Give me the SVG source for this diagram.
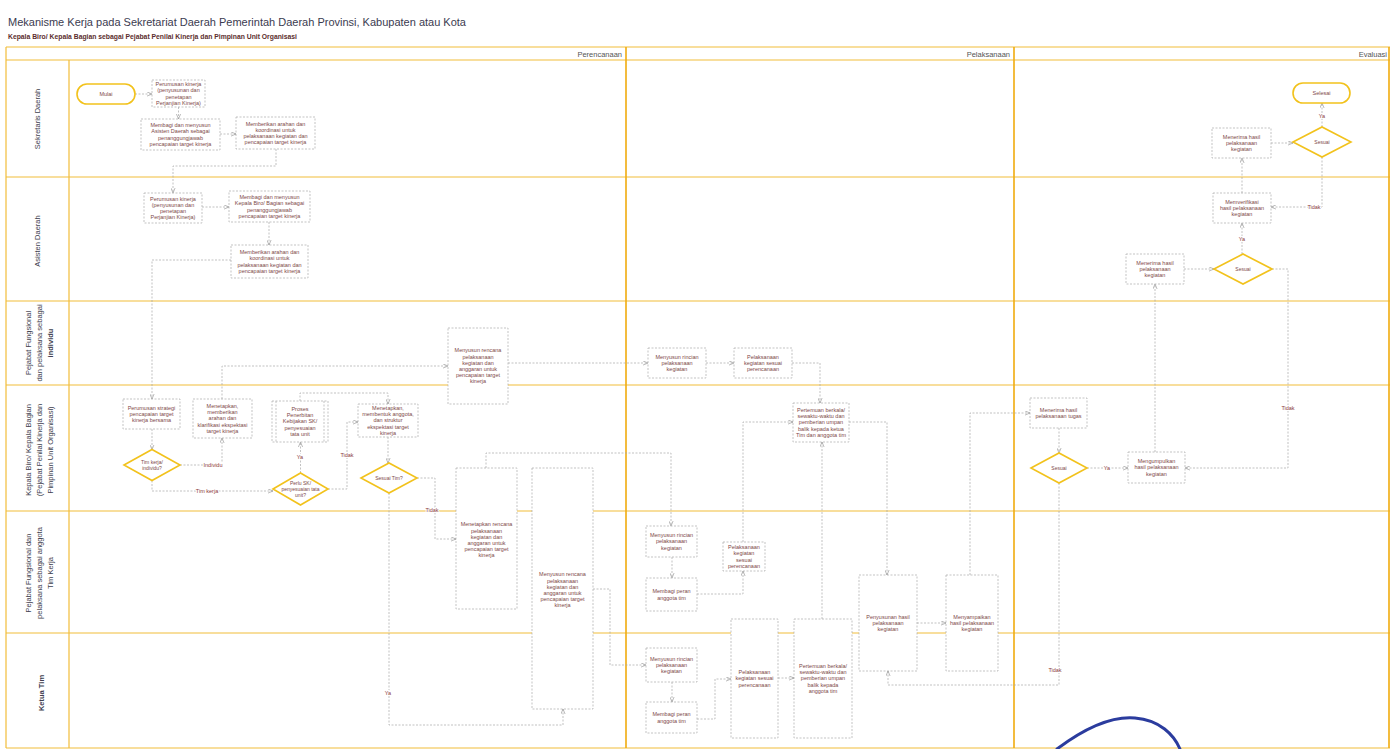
<svg xmlns="http://www.w3.org/2000/svg" width="1396" height="749" viewBox="0 0 1396 749">
<defs>
<style>
.ln{stroke:#f2bd3a;stroke-width:1.2;fill:none}
.lnv{stroke:#f0ac10;stroke-width:1.6;fill:none}
.box{fill:#fff;stroke:#aaa;stroke-width:0.7;stroke-dasharray:2 1.5}
.dia{fill:#fff;stroke:#f2c21c;stroke-width:1.6}
.term{fill:#fff;stroke:#f2c21c;stroke-width:1.6}
.t{font-family:"Liberation Sans",Arial,sans-serif;font-size:5.5px;fill:#7d4848;text-anchor:middle}
.td{font-family:"Liberation Sans",Arial,sans-serif;font-size:5px;fill:#7d4848;text-anchor:middle}
.c{fill:none;stroke:#a8a8a8;stroke-width:0.7;stroke-dasharray:2 1.5;marker-end:url(#a)}
.lb{font-family:"Liberation Sans",Arial,sans-serif;font-size:5.5px;fill:#8b3a3a;text-anchor:middle;stroke:#fff;stroke-width:2;paint-order:stroke}
.lane{font-family:"Liberation Sans",Arial,sans-serif;font-size:7.5px;fill:#40404e;text-anchor:middle}
.hd{font-family:"Liberation Sans",Arial,sans-serif;font-size:7.5px;fill:#555;text-anchor:end}
</style>
<marker id="a" viewBox="0 0 6 6" refX="6" refY="3" markerWidth="5" markerHeight="5" orient="auto" markerUnits="userSpaceOnUse"><path d="M0,0.5 L6,3 L0,5.5" fill="none" stroke="#999" stroke-width="0.8"/></marker>
</defs>
<rect width="1396" height="749" fill="#fff"/>
<text x="8" y="26" font-family="Liberation Sans, Arial, sans-serif" font-size="11px" fill="#3b3b50">Mekanisme Kerja pada Sekretariat Daerah Pemerintah Daerah Provinsi, Kabupaten atau Kota</text>
<text x="8" y="39" font-family="Liberation Sans, Arial, sans-serif" font-size="6.8px" font-weight="bold" fill="#5b2e2e">Kepala Biro/ Kepala Bagian sebagai Pejabat Penilai Kinerja dan Pimpinan Unit Organisasi</text>

<g id="frame">
<path class="ln" d="M6 47 H1390 M6 60 H1390 M6 177 H1390 M6 301 H1390 M6 385 H1390 M6 511 H1390 M6 633 H1390 M6 748 H1390"/>
<path class="ln" d="M6 47 V748 M69 60 V748"/>
<path class="lnv" d="M626 47 V748 M1014 47 V748 M1389 47 V748"/>
<text class="hd" x="622" y="57">Perencanaan</text>
<text class="hd" x="1010" y="57">Pelaksanaan</text>
<text class="hd" x="1387" y="57">Evaluasi</text>
</g>

<g id="lanes">
<text class="lane" transform="translate(40,119) rotate(-90)">Sekretaris Daerah</text>
<text class="lane" transform="translate(40,241) rotate(-90)">Asisten Daerah</text>
<text class="lane" transform="translate(31,343) rotate(-90)">Pejabat Fungsional</text>
<text class="lane" transform="translate(42,343) rotate(-90)">dan pelaksana sebagai</text>
<text class="lane" transform="translate(53,343) rotate(-90)" font-weight="bold">individu</text>
<text class="lane" transform="translate(31,450) rotate(-90)">Kepala Biro/ Kepala Bagian</text>
<text class="lane" transform="translate(42,450) rotate(-90)">(Pejabat Penilai Kinerja dan</text>
<text class="lane" transform="translate(53,450) rotate(-90)">Pimpinan Unit Organisasi)</text>
<text class="lane" transform="translate(31,573) rotate(-90)">Pejabat Fungsional dan</text>
<text class="lane" transform="translate(42,573) rotate(-90)">pelaksana sebagai anggota</text>
<text class="lane" transform="translate(53,573) rotate(-90)">Tim Kerja</text>
<text class="lane" transform="translate(44,693) rotate(-90)" font-size="5.5px" font-weight="bold">Ketua Tim</text>
</g>

<g id="connectors">
<path class="c" d="M135 94 H152"/>
<path class="c" d="M178.5 107 V119"/>
<path class="c" d="M220 134 H236"/>
<path class="c" d="M276 149 V166 H173 V193"/>
<path class="c" d="M202 207 H229"/>
<path class="c" d="M269 222 V245"/>
<path class="c" d="M231 260 H152 V399"/>
<path class="c" d="M152 429 V449.5"/>
<path class="c" d="M180 465 H222 V438"/>
<path class="c" d="M222 399 V366 H448"/>
<path class="c" d="M152 480.5 V491 H273"/>
<path class="c" d="M300.5 473 V442"/>
<path class="c" d="M300 401 V393 H388 V404"/>
<path class="c" d="M328 489 H347 V422 H358"/>
<path class="c" d="M388 437 V463"/>
<path class="c" d="M417 478 H435 V539 H456"/>
<path class="c" d="M389 493 V725 H563 V709"/>
<path class="c" d="M508 363 H648"/>
<path class="c" d="M706 363 H734"/>
<path class="c" d="M792 363 H820 V403"/>
<path class="c" d="M743 542 V422 H793"/>
<path class="c" d="M849 422 H887 V575"/>
<path class="c" d="M822 619 V442"/>
<path class="c" d="M486 468 V453 H671 V526"/>
<path class="c" d="M593 589 H610 V665 H646"/>
<path class="c" d="M672 557 V578"/>
<path class="c" d="M697 594 H743 V571"/>
<path class="c" d="M672 682 V702"/>
<path class="c" d="M697 719 H715 V679 H731"/>
<path class="c" d="M778 678 H794"/>
<path class="c" d="M917 623 H946"/>
<path class="c" d="M970 575 V413 H1030"/>
<path class="c" d="M1059 428 V453"/>
<path class="c" d="M1087 468 H1128"/>
<path class="c" d="M1059 483 V685 H888 V671"/>
<path class="c" d="M1155 452 V284"/>
<path class="c" d="M1184 269 H1214"/>
<path class="c" d="M1272 269 H1288 V468 H1185"/>
<path class="c" d="M1242 254 V223"/>
<path class="c" d="M1242 193 V158"/>
<path class="c" d="M1271 143 H1293"/>
<path class="c" d="M1322 127 V103"/>
<path class="c" d="M1322 157 V207 H1271"/>
<text class="lb" x="213" y="467">Individu</text>
<text class="lb" x="207" y="493">Tim kerja</text>
<text class="lb" x="300" y="459">Ya</text>
<text class="lb" x="347" y="457">Tidak</text>
<text class="lb" x="432" y="512">Tidak</text>
<text class="lb" x="388" y="695">Ya</text>
<text class="lb" x="1107" y="470">Ya</text>
<text class="lb" x="1055" y="672">Tidak</text>
<text class="lb" x="1288" y="410">Tidak</text>
<text class="lb" x="1242" y="241">Ya</text>
<text class="lb" x="1322" y="118">Ya</text>
<text class="lb" x="1314" y="209">Tidak</text>
</g>

<g id="mulai"><rect class="term" x="77" y="84" width="58" height="20" rx="10"/><text class="t" x="106" y="96">Mulai</text></g>
<g id="s1"><rect class="box" x="152" y="80" width="53" height="27"/><text class="t" y="86.1"><tspan x="178.5">Perumusan kinerja</tspan><tspan x="178.5" dy="6.2">(penyusunan dan</tspan><tspan x="178.5" dy="6.2">penetapan</tspan><tspan x="178.5" dy="6.2">Perjanjian Kinerja)</tspan></text></g>
<g id="s2"><rect class="box" x="141" y="119" width="79" height="31"/><text class="t" y="127.1"><tspan x="180.5">Membagi dan menyusun</tspan><tspan x="180.5" dy="6.2">Asisten Daerah sebagai</tspan><tspan x="180.5" dy="6.2">penanggungjawab</tspan><tspan x="180.5" dy="6.2">pencapaian target kinerja</tspan></text></g>
<g id="s3"><rect class="box" x="236" y="117" width="79" height="32"/><text class="t" y="125.6"><tspan x="275.5">Memberikan arahan dan</tspan><tspan x="275.5" dy="6.2">koordinasi untuk</tspan><tspan x="275.5" dy="6.2">pelaksanaan kegiatan dan</tspan><tspan x="275.5" dy="6.2">pencapaian target kinerja</tspan></text></g>

<g id="a1"><rect class="box" x="144" y="193" width="58" height="30"/><text class="t" y="200.6"><tspan x="173">Perumusan kinerja</tspan><tspan x="173" dy="6.2">(penyusunan dan</tspan><tspan x="173" dy="6.2">penetapan</tspan><tspan x="173" dy="6.2">Perjanjian Kinerja)</tspan></text></g>
<g id="a2"><rect class="box" x="229" y="191" width="81" height="31"/><text class="t" y="199.1"><tspan x="269.5">Membagi dan menyusun</tspan><tspan x="269.5" dy="6.2">Kepala Biro/ Bagian sebagai</tspan><tspan x="269.5" dy="6.2">penanggungjawab</tspan><tspan x="269.5" dy="6.2">pencapaian target kinerja</tspan></text></g>
<g id="a3"><rect class="box" x="231" y="245" width="77" height="33"/><text class="t" y="254.1"><tspan x="269.5">Memberikan arahan dan</tspan><tspan x="269.5" dy="6.2">koordinasi untuk</tspan><tspan x="269.5" dy="6.2">pelaksanaan kegiatan dan</tspan><tspan x="269.5" dy="6.2">pencapaian target kinerja</tspan></text></g>

<g id="k1"><rect class="box" x="123" y="399" width="57" height="30"/><text class="t" y="409.7"><tspan x="151.5">Perumusan strategi</tspan><tspan x="151.5" dy="6.2">pencapaian target</tspan><tspan x="151.5" dy="6.2">kinerja bersama</tspan></text></g>
<g id="d1"><polygon class="dia" points="124,465 152,449.5 180,465 152,480.5"/><text class="td" y="463.8"><tspan x="152">Tim kerja/</tspan><tspan x="152" dy="6.2">individu?</tspan></text></g>
<g id="k2"><rect class="box" x="193" y="399" width="59" height="39"/><text class="t" y="408"><tspan x="222.5">Menetapkan,</tspan><tspan x="222.5" dy="6.2">memberikan</tspan><tspan x="222.5" dy="6.2">arahan dan</tspan><tspan x="222.5" dy="6.2">klarifikasi ekspektasi</tspan><tspan x="222.5" dy="6.2">target kinerja</tspan></text></g>
<g id="d2"><polygon class="dia" points="273,489 300.5,473 328,489 300.5,505"/><text class="td" y="484.7"><tspan x="300.5">Perlu SK/</tspan><tspan x="300.5" dy="6.2">penyesuaian tata</tspan><tspan x="300.5" dy="6.2">unit?</tspan></text></g>
<g id="k3"><rect class="box" x="272" y="401" width="56" height="41"/><path d="M276 401 V442 M324 401 V442" stroke="#aaa" stroke-width="0.7" stroke-dasharray="2 1.5"/><text class="t" y="411"><tspan x="300">Proses</tspan><tspan x="300" dy="6.2">Penerbitan</tspan><tspan x="300" dy="6.2">Kebijakan SK/</tspan><tspan x="300" dy="6.2">penyesuaian</tspan><tspan x="300" dy="6.2">tata unit</tspan></text></g>
<g id="k4"><rect class="box" x="358" y="404" width="60" height="33"/><text class="t" y="410"><tspan x="388">Menetapkan,</tspan><tspan x="388" dy="6.2">membentuk anggota,</tspan><tspan x="388" dy="6.2">dan struktur</tspan><tspan x="388" dy="6.2">ekspektasi target</tspan><tspan x="388" dy="6.2">kinerja</tspan></text></g>
<g id="d3"><polygon class="dia" points="361,478 389,463 417,478 389,493"/><text class="td" x="389" y="479.9">Sesuai Tim?</text></g>

<g id="pf1"><rect class="box" x="448" y="328" width="60" height="76"/><text class="t" y="352.4"><tspan x="478">Menyusun rencana</tspan><tspan x="478" dy="6.2">pelaksanaan</tspan><tspan x="478" dy="6.2">kegiatan dan</tspan><tspan x="478" dy="6.2">anggaran untuk</tspan><tspan x="478" dy="6.2">pencapaian target</tspan><tspan x="478" dy="6.2">kinerja</tspan></text></g>
<g id="pi1"><rect class="box" x="648" y="348" width="58" height="30"/><text class="t" y="358.7"><tspan x="677">Menyusun rincian</tspan><tspan x="677" dy="6.2">pelaksanaan</tspan><tspan x="677" dy="6.2">kegiatan</tspan></text></g>
<g id="pi2"><rect class="box" x="734" y="348" width="58" height="30"/><text class="t" y="358.7"><tspan x="763">Pelaksanaan</tspan><tspan x="763" dy="6.2">kegiatan sesuai</tspan><tspan x="763" dy="6.2">perencanaan</tspan></text></g>
<g id="k5"><rect class="box" x="793" y="403" width="56" height="39"/><text class="t" y="412"><tspan x="821">Pertemuan berkala/</tspan><tspan x="821" dy="6.2">sewaktu-waktu dan</tspan><tspan x="821" dy="6.2">pemberian umpan</tspan><tspan x="821" dy="6.2">balik kepada ketua</tspan><tspan x="821" dy="6.2">Tim dan anggota tim</tspan></text></g>

<g id="pf2"><rect class="box" x="456" y="468" width="61" height="141"/><text class="t" y="526.4"><tspan x="486.5">Menetapkan rencana</tspan><tspan x="486.5" dy="6.2">pelaksanaan</tspan><tspan x="486.5" dy="6.2">kegiatan dan</tspan><tspan x="486.5" dy="6.2">anggaran untuk</tspan><tspan x="486.5" dy="6.2">pencapaian target</tspan><tspan x="486.5" dy="6.2">kinerja</tspan></text></g>
<g id="pf3"><rect class="box" x="532" y="468" width="61" height="241"/><text class="t" y="576.4"><tspan x="562.5">Menyusun rencana</tspan><tspan x="562.5" dy="6.2">pelaksanaan</tspan><tspan x="562.5" dy="6.2">kegiatan dan</tspan><tspan x="562.5" dy="6.2">anggaran untuk</tspan><tspan x="562.5" dy="6.2">pencapaian target</tspan><tspan x="562.5" dy="6.2">kinerja</tspan></text></g>
<g id="pa1"><rect class="box" x="646" y="526" width="51" height="31"/><text class="t" y="537.2"><tspan x="671.5">Menyusun rincian</tspan><tspan x="671.5" dy="6.2">pelaksanaan</tspan><tspan x="671.5" dy="6.2">kegiatan</tspan></text></g>
<g id="pa2"><rect class="box" x="646" y="578" width="51" height="33"/><text class="t" y="593.3"><tspan x="671.5">Membagi peran</tspan><tspan x="671.5" dy="6.2">anggota tim</tspan></text></g>
<g id="pa3"><rect class="box" x="723" y="542" width="42" height="29"/><text class="t" y="549.1"><tspan x="744">Pelaksanaan</tspan><tspan x="744" dy="6.2">kegiatan</tspan><tspan x="744" dy="6.2">sesuai</tspan><tspan x="744" dy="6.2">perencanaan</tspan></text></g>

<g id="pa4"><rect class="box" x="646" y="648" width="51" height="34"/><text class="t" y="660.7"><tspan x="671.5">Menyusun rincian</tspan><tspan x="671.5" dy="6.2">pelaksanaan</tspan><tspan x="671.5" dy="6.2">kegiatan</tspan></text></g>
<g id="pa5"><rect class="box" x="646" y="702" width="51" height="31"/><text class="t" y="716.3"><tspan x="671.5">Membagi peran</tspan><tspan x="671.5" dy="6.2">anggota tim</tspan></text></g>
<g id="pb1"><rect class="box" x="731" y="619" width="47" height="119"/><text class="t" y="674.2"><tspan x="754.5">Pelaksanaan</tspan><tspan x="754.5" dy="6.2">kegiatan sesuai</tspan><tspan x="754.5" dy="6.2">perencanaan</tspan></text></g>
<g id="pb2"><rect class="box" x="794" y="619" width="58" height="119"/><text class="t" y="668"><tspan x="823">Pertemuan berkala/</tspan><tspan x="823" dy="6.2">sewaktu-waktu dan</tspan><tspan x="823" dy="6.2">pemberian umpan</tspan><tspan x="823" dy="6.2">balik kepada</tspan><tspan x="823" dy="6.2">anggota tim</tspan></text></g>
<g id="pb3"><rect class="box" x="859" y="575" width="58" height="96"/><text class="t" y="618.7"><tspan x="888">Penyusunan hasil</tspan><tspan x="888" dy="6.2">pelaksanaan</tspan><tspan x="888" dy="6.2">kegiatan</tspan></text></g>
<g id="pb4"><rect class="box" x="946" y="575" width="52" height="96"/><text class="t" y="618.7"><tspan x="972">Menyampaikan</tspan><tspan x="972" dy="6.2">hasil pelaksanaan</tspan><tspan x="972" dy="6.2">kegiatan</tspan></text></g>

<g id="e6"><rect class="box" x="1030" y="398" width="57" height="30"/><text class="t" y="411.8"><tspan x="1058.5">Menerima hasil</tspan><tspan x="1058.5" dy="6.2">pelaksanaan tugas</tspan></text></g>
<g id="d6"><polygon class="dia" points="1031,468 1059,453 1087,468 1059,483"/><text class="td" x="1059" y="469.9">Sesuai</text></g>
<g id="e7"><rect class="box" x="1128" y="452" width="57" height="31"/><text class="t" y="463.2"><tspan x="1156.5">Mengumpulkan</tspan><tspan x="1156.5" dy="6.2">hasil pelaksanaan</tspan><tspan x="1156.5" dy="6.2">kegiatan</tspan></text></g>
<g id="e5"><rect class="box" x="1126" y="254" width="58" height="30"/><text class="t" y="264.7"><tspan x="1155">Menerima hasil</tspan><tspan x="1155" dy="6.2">pelaksanaan</tspan><tspan x="1155" dy="6.2">kegiatan</tspan></text></g>
<g id="e4"><polygon class="dia" points="1214,269 1243,254 1272,269 1243,284"/><text class="td" x="1243" y="270.9">Sesuai</text></g>
<g id="e3"><rect class="box" x="1213" y="193" width="58" height="30"/><text class="t" y="203.7"><tspan x="1242">Memverifikasi</tspan><tspan x="1242" dy="6.2">hasil pelaksanaan</tspan><tspan x="1242" dy="6.2">kegiatan</tspan></text></g>
<g id="e2"><rect class="box" x="1212" y="128" width="59" height="30"/><text class="t" y="138.7"><tspan x="1241.5">Menerima hasil</tspan><tspan x="1241.5" dy="6.2">pelaksanaan</tspan><tspan x="1241.5" dy="6.2">kegiatan</tspan></text></g>
<g id="e1"><polygon class="dia" points="1293,142 1322,127 1351,142 1322,157"/><text class="td" x="1322" y="143.9">Sesuai</text></g>
<g id="selesai"><rect class="term" x="1293" y="83" width="57" height="20" rx="10"/><text class="t" x="1321.5" y="95">Selesai</text></g>

<path d="M1057 749 C1085 728 1112 716 1135 718 C1160 720 1174 735 1180 749" fill="none" stroke="#2b3c9e" stroke-width="3" stroke-linecap="round"/>
</svg>
